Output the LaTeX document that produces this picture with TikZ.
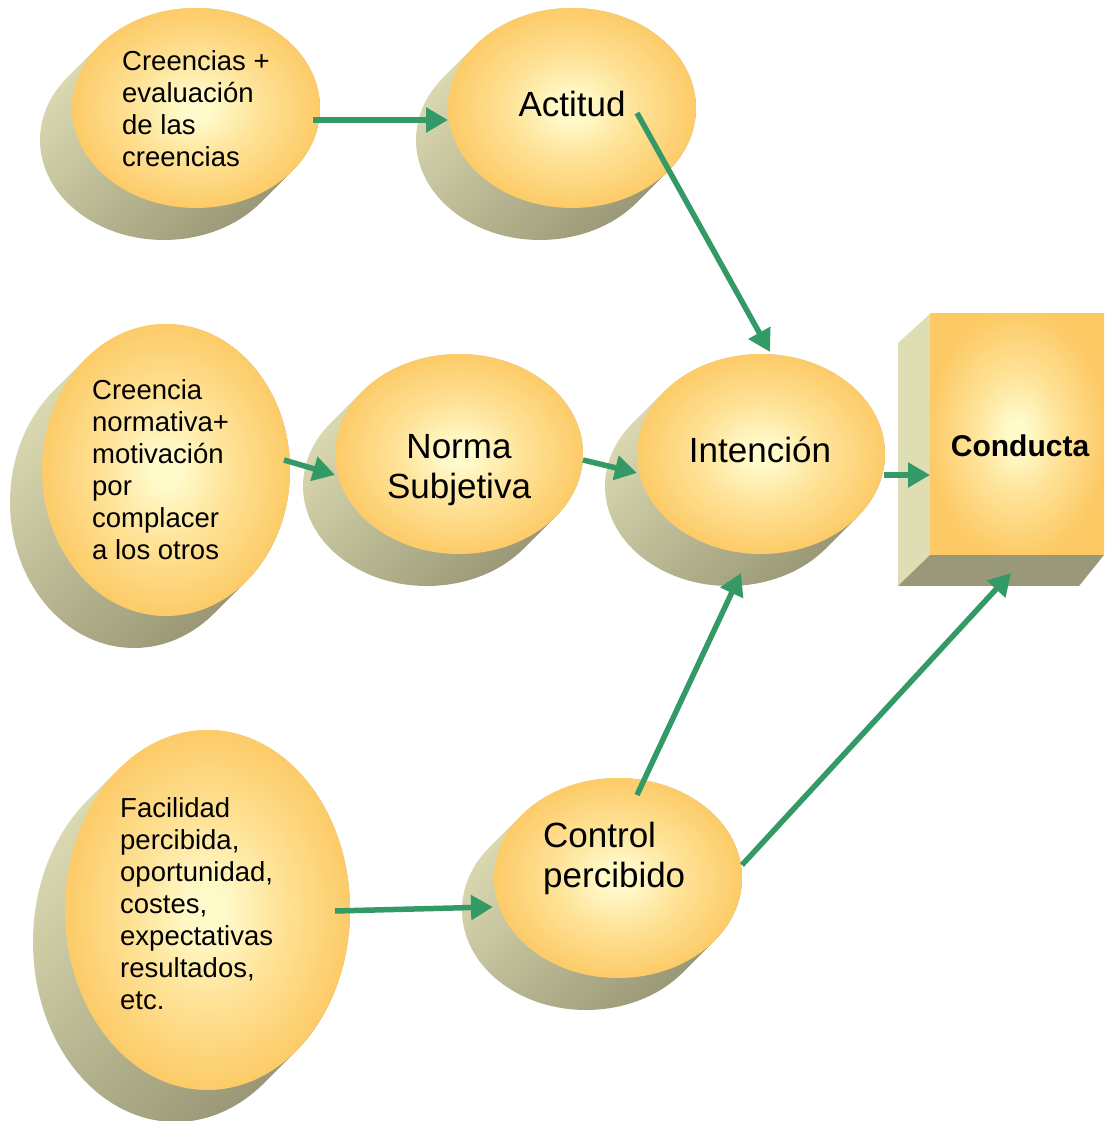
\documentclass[tikz,border=0pt]{standalone}
\usepackage{fontspec}
\setmainfont{Liberation Sans}
\usetikzlibrary{arrows.meta,calc}
\definecolor{blobin}{HTML}{FFFACA}
\definecolor{blobmid}{HTML}{FEE296}
\definecolor{blobout}{HTML}{FDC964}
\definecolor{shlight}{HTML}{E1E0B7}
\definecolor{shmid}{HTML}{D2D1A8}
\definecolor{shdark}{HTML}{92906F}
\definecolor{sideface}{HTML}{DFDDB3}
\definecolor{bottomface}{HTML}{999879}
\definecolor{arrowgreen}{HTML}{339966}
\pgfdeclareradialshading{blobshade}{\pgfpoint{0bp}{0bp}}{color(0bp)=(blobin); color(3bp)=(blobin); color(13bp)=(blobmid); color(26bp)=(blobout); color(50bp)=(blobout)}
\newcommand\drawblob[4]{%
  \pgfmathsetmacro\tA{180-atan(#4/#3)}%
  \pgfmathsetmacro\tB{\tA+180}%
  \pgfmathsetmacro\tC{\tA+360}%
  \shade[top color=shlight, middle color=shmid, bottom color=shdark, shading angle=45]
    ({#1-32+#3*cos(\tA)},{#2-32+#4*sin(\tA)})
    arc[start angle=\tA, end angle=\tB, x radius=#3, y radius=#4]
    -- ++(32,32)
    arc[start angle=\tB, end angle=\tC, x radius=#3, y radius=#4] -- cycle;
  \shade[shading=blobshade] (#1,#2) ellipse[x radius=#3, y radius=#4];
}
\begin{document}
\begin{tikzpicture}[x=1pt,y=1pt,
  conn/.style={draw=arrowgreen, line width=5.5pt, -{Triangle[length=22pt,width=24pt]}},
  small/.style={font=\fontsize{27.5}{32}\selectfont, align=left, inner sep=0pt, anchor=north west},
  big/.style={font=\fontsize{35}{40}\selectfont, inner sep=0pt}]
\useasboundingbox (0,0) rectangle (1104,1121);

% ellipses (front face + extruded side)
\drawblob{196}{1013}{124}{100}
\drawblob{572}{1013}{124}{100}
\drawblob{166}{651}{124}{146}
\drawblob{459}{667}{124}{100}
\drawblob{761}{667}{124}{100}
\drawblob{207.5}{211}{142.5}{180}
\drawblob{618}{243}{124}{100}

% Conducta box
\fill[sideface] (898,778) -- (930,807) -- (930,566) -- (898,535) -- cycle;
\fill[bottomface] (930,566) -- (1104,566) -- (1079,535) -- (898,535) -- cycle;
\shade[shading=blobshade] (930,566) rectangle (1104,807);

% texts
\node[small] (creencias) at (122,1075) {\rule{0pt}{24pt}Creencias +\\evaluación\\de las\\creencias};
\node[big, anchor=base] (actitud) at (572,1004) {Actitud};
\node[small] (normativa) at (92,746) {\rule{0pt}{24pt}Creencia\\normativa+\\motivación\\por\\complacer\\a los otros};
\node[big, anchor=north, align=center] (norma) at (459,693) {\rule{0pt}{30pt}Norma\\Subjetiva};
\node[big, anchor=base] (intencion) at (760,658) {Intención};
\node[font=\bfseries\fontsize{30}{36}\selectfont, inner sep=0pt, anchor=base] (conducta) at (1020,664) {Conducta};
\node[small] (facilidad) at (120,328) {\rule{0pt}{24pt}Facilidad\\percibida,\\oportunidad,\\costes,\\expectativas\\resultados,\\etc.};
\node[big, align=left, anchor=north west] (control) at (543,304) {\rule{0pt}{30pt}Control\\percibido};

% connector end points
\coordinate (a1s) at (313,1001); \coordinate (a1e) at (448,1001);
\coordinate (a2s) at (637,1008); \coordinate (a2e) at (770,769);
\coordinate (a3s) at (284,661);  \coordinate (a3e) at (335,646);
\coordinate (a4s) at (583,661);  \coordinate (a4e) at (637,648);
\coordinate (a5s) at (884,646);  \coordinate (a5e) at (930,646);
\coordinate (a6s) at (637,326);  \coordinate (a6e) at (741,548);
\coordinate (a7s) at (742,256);  \coordinate (a7e) at (1011,548);
\coordinate (a8s) at (335,210);  \coordinate (a8e) at (493,214);

\draw[conn] (a1s) -- (a1e);
\draw[conn] (a2s) -- (a2e);
\draw[conn] (a3s) -- (a3e);
\draw[conn] (a4s) -- (a4e);
\draw[conn] (a5s) -- (a5e);
\draw[conn] (a6s) -- (a6e);
\draw[conn] (a7s) -- (a7e);
\draw[conn] (a8s) -- (a8e);
\end{tikzpicture}
\end{document}
